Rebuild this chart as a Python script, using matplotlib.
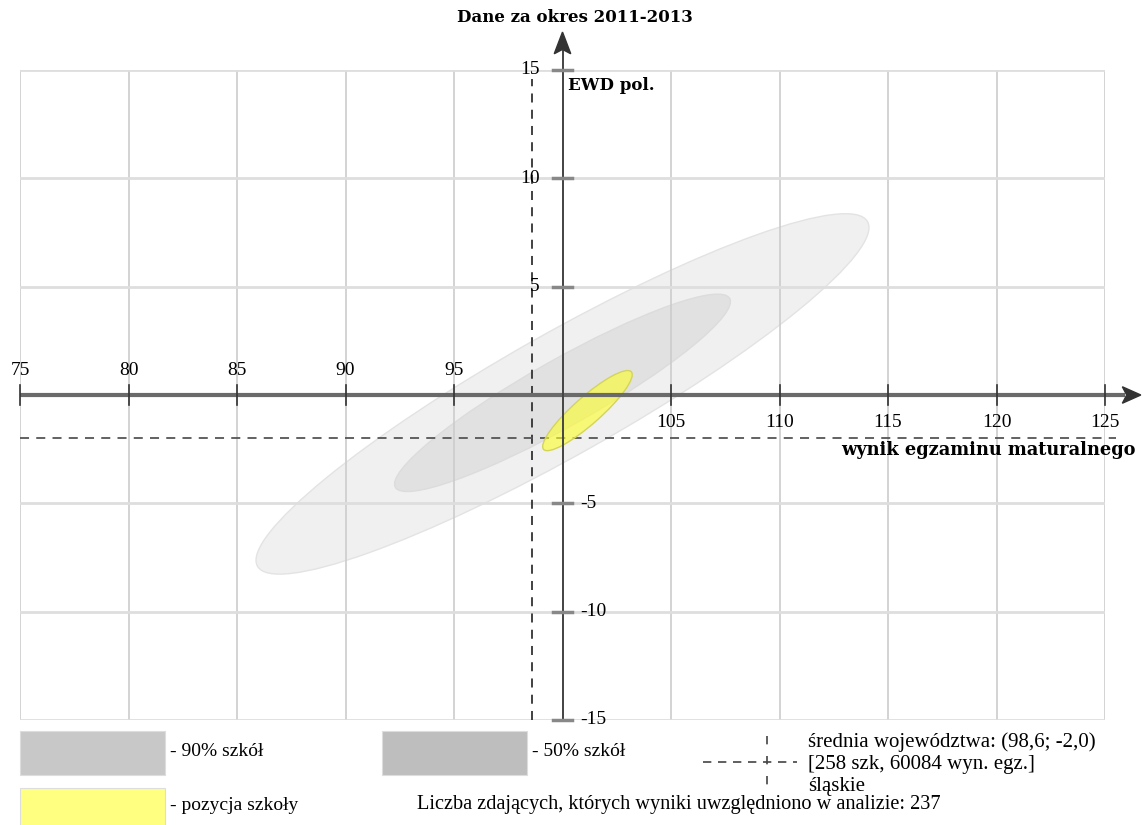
import numpy as np
import matplotlib.pyplot as plt
from matplotlib.patches import Ellipse, Rectangle, Polygon

plt.rcParams['font.family'] = ['Liberation Serif', 'DejaVu Serif']

# chart values
x_ticks = [75, 80, 85, 90, 95, 100, 105, 110, 115, 120, 125]
y_ticks = [-15, -10, -5, 0, 5, 10, 15]
# ellipses: (center x, center y, width, height, angle)
ell_90 = (100.0, 0.05, 32.3, 5.6, 29.5)
ell_50 = (100.0, 0.1, 17.7, 3.05, 29.5)
ell_school = (101.15, -0.72, 5.4, 1.25, 41.5)
mean_x, mean_y = 98.6, -2.0

title = "Dane za okres 2011-2013"
x_label = "wynik egzaminu maturalnego"
y_label = "EWD pol."

W, H = 1142, 825
fig = plt.figure(figsize=(W / 100, H / 100), dpi=100)
ax = fig.add_axes([20 / W, 1 - 720 / H, (1105 - 20) / W, (720 - 70) / H])
ax.set_xlim(75, 125)
ax.set_ylim(-15, 15)
ax.axis('off')

# grid
for v in x_ticks:
    ax.plot([v, v], [-15, 15], color='#cccccc', lw=1.2, zorder=3)
for v in y_ticks:
    ax.plot([75, 125], [v, v], color='#dedede', lw=2, zorder=3)

# ellipses
cx, cy, w, h, a = ell_90
ax.add_patch(Ellipse((cx, cy), w, h, angle=a, facecolor='#f0f0f0', edgecolor='#e3e3e3', lw=1, zorder=1))
cx, cy, w, h, a = ell_50
ax.add_patch(Ellipse((cx, cy), w, h, angle=a, facecolor='#e1e1e1', edgecolor='#dcdcdc', lw=1, zorder=2))
cx, cy, w, h, a = ell_school
ax.add_patch(Ellipse((cx, cy), w, h, angle=a, facecolor=(1, 1, 0.15, 0.6), edgecolor='#d4d45a', lw=1, zorder=6))

# mean lines
ax.plot([mean_x, mean_x], [-15, 14.6], color='#333333', lw=1.3, ls=(0, (5, 4)), zorder=5, clip_on=False)
ax.plot([75, 125.5], [mean_y, mean_y], color='#555555', lw=1.3, ls=(0, (5, 4)), zorder=5, clip_on=False)

# x axis
ax.plot([75, 125.9], [0, 0], color='#6a6a6a', lw=3, zorder=7, clip_on=False, solid_capstyle='butt')
ax.add_patch(Polygon([[125.8, 0.38], [126.65, 0], [125.8, -0.38], [126.0, 0]], closed=True,
                     color='#333333', zorder=8, clip_on=False))
# y axis
ax.plot([100, 100], [-15, 15.9], color='#444444', lw=1.4, zorder=7, clip_on=False)
ax.add_patch(Polygon([[99.62, 15.75], [100, 16.75], [100.38, 15.75], [100, 15.95]], closed=True,
                     color='#333333', zorder=8, clip_on=False))

# ticks and labels
for v in x_ticks:
    if v == 100:
        continue
    ax.plot([v, v], [-0.45, 0.45], color='#333333', lw=1.2, zorder=8, clip_on=False)
    if v < 100:
        ax.text(v, 1.15, str(v), ha='center', va='center', fontsize=14, zorder=9)
    else:
        ax.text(v, -1.25, str(v), ha='center', va='center', fontsize=14, zorder=9)
for v in y_ticks:
    if v == 0:
        continue
    ax.plot([99.55, 100.45], [v, v], color='#888888', lw=2.5, zorder=8, clip_on=False)
    if v > 0:
        ax.text(98.95, v, str(v), ha='right', va='center', fontsize=14, zorder=9)
    else:
        ax.text(100.8, v, str(v), ha='left', va='center', fontsize=14, zorder=9)

bold = dict(fontsize=12, fontweight='bold', family='DejaVu Serif')
ax.text(100.25, 14.3, y_label, ha='left', va='center', zorder=9, **bold)
ax.text(126.4, -2.55, x_label, ha='right', va='center', zorder=9, clip_on=False,
        fontsize=12.8, fontweight='bold', family='DejaVu Serif')


def fx(x):
    return x / W


def fy(y):
    return 1 - y / H


fig.text(fx(575), fy(18), title, ha='center', va='center', **bold)

# legend
def box(x0, y0, x1, y1, color):
    fig.add_artist(Rectangle((fx(x0), fy(y1)), fx(x1) - fx(x0), fy(y0) - fy(y1),
                             facecolor=color, edgecolor='#dddddd', lw=0.8, transform=fig.transFigure))


box(20, 731, 165, 775, '#c8c8c8')
fig.text(fx(170), fy(752), "- 90% szkół", ha='left', va='center', fontsize=14)
box(382, 731, 527, 775, '#bebebe')
fig.text(fx(532), fy(752), "- 50% szkół", ha='left', va='center', fontsize=14)
box(20, 788, 165, 826, '#ffff80')
fig.text(fx(170), fy(806), "- pozycja szkoły", ha='left', va='center', fontsize=14)
fig.text(fx(417), fy(805), "Liczba zdających, których wyniki uwzględniono w analizie: 237",
         ha='left', va='center', fontsize=14.6)

fig.add_artist(plt.Line2D([fx(703), fx(797)], [fy(762), fy(762)], color='#444444', lw=1.2,
                          ls=(0, (5, 4)), transform=fig.transFigure))
fig.add_artist(plt.Line2D([fx(767), fx(767)], [fy(736), fy(790)], color='#444444', lw=1.2,
                          ls=(0, (5, 7)), transform=fig.transFigure))
fig.text(fx(808), fy(742), "średnia województwa: (98,6; -2,0)", ha='left', va='center', fontsize=15)
fig.text(fx(808), fy(764), "[258 szk, 60084 wyn. egz.]", ha='left', va='center', fontsize=15)
fig.text(fx(808), fy(786), "śląskie", ha='left', va='center', fontsize=15)

fig.savefig("out.png", dpi=100)
